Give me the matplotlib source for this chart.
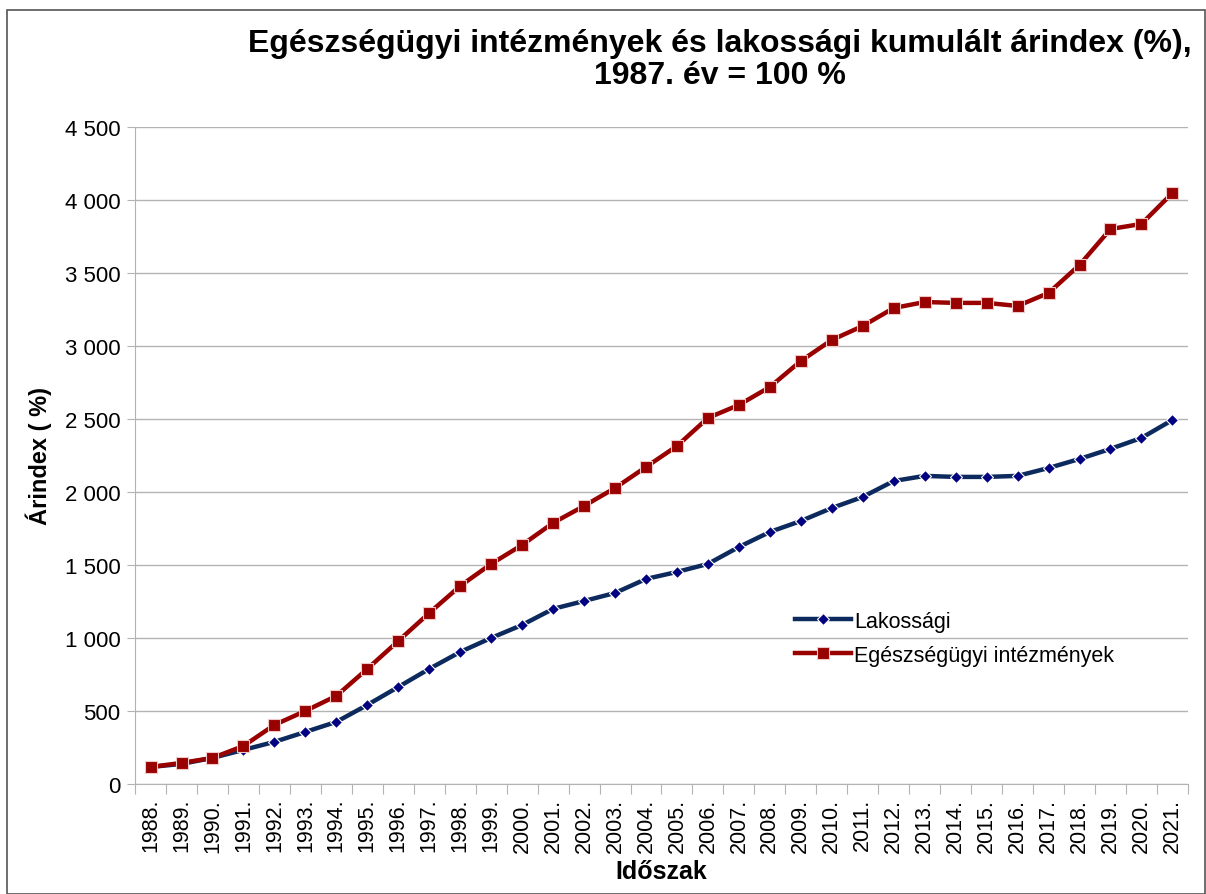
import numpy as np
import matplotlib.pyplot as plt
from matplotlib.patches import Rectangle

plt.rcParams['font.family'] = ['Liberation Sans', 'DejaVu Sans']

years = [str(y) + '.' for y in range(1988, 2022)]

# Lakossági (population) cumulative price index
lakossagi = [116, 137, 178, 233, 288, 356, 425, 541, 664, 788,
             904, 1000, 1089, 1199, 1253, 1308, 1404, 1452, 1507, 1623,
             1726, 1801, 1890, 1966, 2075, 2110, 2103, 2103, 2110, 2164,
             2226, 2295, 2370, 2493]

# Egészségügyi intézmények (health institutions)
egeszsegugyi = [116, 144, 178, 260, 404, 500, 603, 788, 979, 1171,
                1356, 1507, 1637, 1788, 1904, 2027, 2171, 2315, 2507, 2596,
                2719, 2897, 3041, 3137, 3260, 3301, 3295, 3295, 3274, 3363,
                3555, 3801, 3836, 4048]

fig = plt.figure(figsize=(12.06, 8.95), dpi=100)
ax = fig.add_axes([0.112, 0.123, 0.873, 0.734])

x = np.arange(len(years))
ax.plot(x, lakossagi, color='#0c2a5e', lw=3.2, marker='D', ms=6.5,
        mfc='#000080', mec='white', mew=0.8, label='Lakossági', zorder=3)
ax.plot(x, egeszsegugyi, color='#990000', lw=3.2, marker='s', ms=9,
        mfc='#990000', mec='#f0c8c8', mew=0.8,
        label='Egészségügyi intézmények', zorder=4)

ax.set_xlim(-0.5, len(years) - 0.5)
ax.set_ylim(0, 4500)
ax.set_yticks(np.arange(0, 4501, 500))
ax.set_yticklabels(['{:,}'.format(v).replace(',', ' ') for v in range(0, 4501, 500)],
                   fontsize=16)
ax.yaxis.grid(True, color='#b3b3b3', lw=1)
ax.set_axisbelow(True)

# category boundaries as tick marks, labels in the middle
ax.set_xticks(np.arange(-0.5, len(years), 1.0))
ax.set_xticklabels([])
ax.set_xticks(x, minor=True)
ax.set_xticklabels(years, minor=True, rotation=90, fontsize=15.5)
ax.tick_params(axis='x', which='major', length=7, color='#b3b3b3')
ax.tick_params(axis='x', which='minor', length=0, pad=10)
ax.tick_params(axis='y', length=6, color='#b3b3b3', pad=4.5)

for s in ['top', 'right']:
    ax.spines[s].set_visible(False)
for s in ['left', 'bottom']:
    ax.spines[s].set_color('#b3b3b3')

ax.set_xlabel('Időszak', fontsize=18, fontweight='bold', labelpad=5)
ax.set_ylabel('Árindex ( %)', fontsize=17, fontweight='bold', labelpad=9)

fig.text(0.597, 0.968, 'Egészségügyi intézmények és lakossági kumulált árindex (%),\n1987. év = 100 %',
         ha='center', va='top', fontsize=23, fontweight='bold', linespacing=1.12)

ax.legend(loc='upper left', bbox_to_anchor=(784 / 1206, 1 - 601 / 895),
          bbox_transform=fig.transFigure, frameon=False, borderpad=0,
          fontsize=15.5, handlelength=2.6, handletextpad=0.15, labelspacing=0.6)

fig.patches.append(Rectangle((0.006, 0.0), 0.993, 0.988, transform=fig.transFigure,
                             fill=False, edgecolor='#555555', lw=1.2))

fig.savefig('out.png', dpi=100)
